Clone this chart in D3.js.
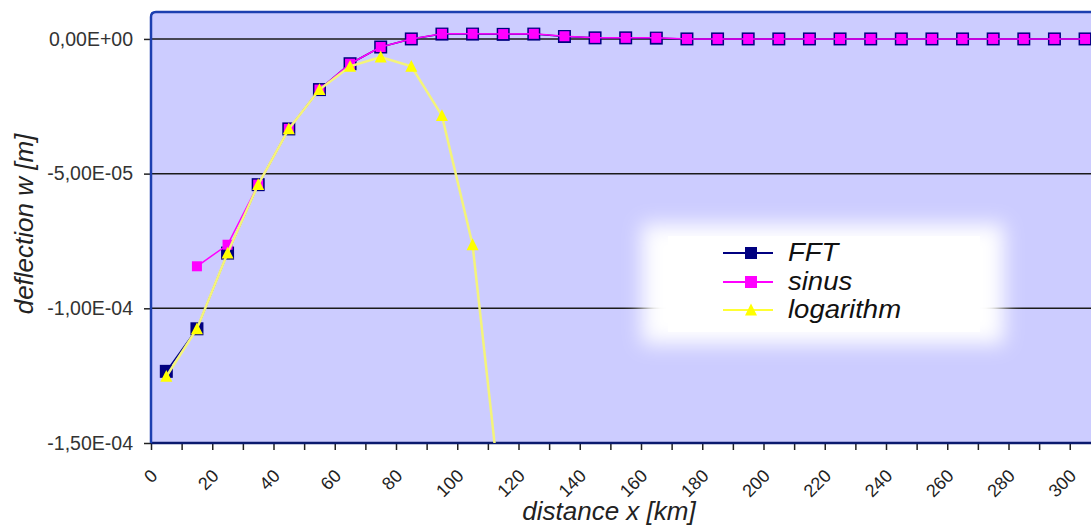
<!DOCTYPE html>
<html lang="en">
<head>
    <meta charset="UTF-8">
    <title>deflection</title>
    <style>
        body { margin: 0; background: #fff; }
        svg { display: block; font-family: "Liberation Sans", Arial, sans-serif; }
    </style>
</head>
<body>
<script src="https://cdnjs.cloudflare.com/ajax/libs/d3/7.8.5/d3.min.js"></script>
<script>
    const width = 1091;
    const height = 531;

    // distance x [km]
    const distance = [5, 15, 25, 35, 45, 55, 65, 75, 85, 95, 105, 115, 125, 135, 145, 155,
        165, 175, 185, 195, 205, 215, 225, 235, 245, 255, 265, 275, 285, 295, 305];

    // deflection w [m]
    const fft = [-1.234e-4, -1.076e-4, -7.95e-5, -5.41e-5, -3.34e-5, -1.88e-5, -9.2e-6, -3.0e-6,
        0, 1.8e-6, 1.8e-6, 1.7e-6, 1.8e-6, 0.9e-6, 0.4e-6, 0.4e-6,
        0.3e-6, 0, 0, 0, 0, 0, 0, 0, 0, 0, 0, 0, 0, 0, 0];
    const sinus = [null, -8.44e-5, -7.64e-5, -5.41e-5, -3.34e-5, -1.88e-5, -9.2e-6, -3.0e-6,
        0, 1.9e-6, 1.9e-6, 1.8e-6, 1.9e-6, 1.0e-6, 0.4e-6, 0.4e-6,
        0.4e-6, 0, 0, 0, 0, 0, 0, 0, 0, 0, 0, 0, 0, 0, 0];
    const logarithm = [-1.253e-4, -1.076e-4, -7.95e-5, -5.41e-5, -3.34e-5, -1.88e-5, -1.02e-5, -6.7e-6,
        -1.02e-5, -2.85e-5, -7.64e-5, -1.79e-4];

    const yTicks = [0, -5e-5, -1e-4, -1.5e-4];
    const yTickLabels = ["0,00E+00", "-5,00E-05", "-1,00E-04", "-1,50E-04"];
    const xTicks = d3.range(0, 320, 10);
    const seriesNames = ["FFT", "sinus", "logarithm"];

    const plot = {left: 151, top: 12, right: 1131, bottom: 443};

    const x = d3.scaleLinear().domain([0, 320]).range([plot.left, plot.right]);
    const y = d3.scaleLinear().domain([-1.5e-4, 1e-5]).range([plot.bottom, plot.top]);

    const svg = d3.select("body").append("svg")
        .attr("width", width)
        .attr("height", height);

    const defs = svg.append("defs");
    defs.append("clipPath").attr("id", "plotclip")
        .append("rect")
        .attr("x", plot.left).attr("y", plot.top)
        .attr("width", plot.right - plot.left).attr("height", plot.bottom - plot.top);
    defs.append("filter").attr("id", "soft")
        .attr("x", "-20%").attr("y", "-40%").attr("width", "140%").attr("height", "180%")
        .append("feGaussianBlur").attr("stdDeviation", 10);

    // plot background
    svg.append("rect")
        .attr("x", plot.left).attr("y", plot.top)
        .attr("width", plot.right - plot.left).attr("height", plot.bottom - plot.top)
        .attr("fill", "#ccccff");

    // gridlines
    svg.append("g")
        .selectAll("line")
        .data(yTicks.slice(0, 3))
        .join("line")
        .attr("x1", plot.left).attr("x2", plot.right)
        .attr("y1", d => y(d)).attr("y2", d => y(d))
        .attr("stroke", "#1a1a1a")
        .attr("stroke-width", 1.5);

    // y axis
    const yAxis = svg.append("g")
        .attr("transform", `translate(${plot.left},0)`)
        .call(d3.axisLeft(y).tickValues(yTicks).tickFormat((d, i) => yTickLabels[i]).tickSize(7).tickPadding(11));
    yAxis.select(".domain").remove();
    yAxis.selectAll(".tick line").attr("stroke", "#222").attr("stroke-width", 1.5);
    yAxis.selectAll(".tick text")
        .attr("font-size", 19.5)
        .attr("fill", "#333")
        .attr("font-family", "Liberation Sans, Arial, sans-serif");

    // x axis
    const xAxis = svg.append("g")
        .attr("transform", `translate(0,${plot.bottom})`)
        .call(d3.axisBottom(x).tickValues(xTicks).tickFormat(d => d % 20 === 0 ? d : "").tickSize(7));
    xAxis.select(".domain").remove();
    xAxis.selectAll(".tick line").attr("stroke", "#222").attr("stroke-width", 1.5);
    xAxis.selectAll(".tick text")
        .attr("font-size", 18)
        .attr("fill", "#222")
        .attr("font-family", "Liberation Sans, Arial, sans-serif")
        .attr("text-anchor", "end")
        .attr("dy", null)
        .attr("y", 0)
        .attr("transform", "translate(7,34) rotate(-45)");

    // frame
    svg.append("line")
        .attr("x1", plot.left).attr("x2", width)
        .attr("y1", plot.bottom).attr("y2", plot.bottom)
        .attr("stroke", "#0a1a6e").attr("stroke-width", 2.5);
    svg.append("path")
        .attr("d", `M${plot.left},${plot.bottom} L${plot.left},${plot.top + 5} Q${plot.left},${plot.top} ${plot.left + 5},${plot.top} L${width},${plot.top}`)
        .attr("fill", "none")
        .attr("stroke", "#1c3fb0").attr("stroke-width", 2.5);

    // series
    const area = svg.append("g").attr("clip-path", "url(#plotclip)");

    const line = d3.line()
        .defined(d => d[1] !== null)
        .x(d => x(d[0]))
        .y(d => y(d[1]));

    const seriesData = [fft, sinus, logarithm].map(vals =>
        vals.map((v, i) => [distance[i], v]));

    const styles = [
        {line: "#000080", width: 1.5, marker: "square", fill: "#000080", size: 13},
        {line: "#ff00ff", width: 1.5, marker: "square", fill: "#ff00ff", size: 10},
        {line: "#f4f47a", width: 2.5, marker: "triangle", fill: "#ffff00", size: 12}
    ];

    function drawMarker(g, kind, fill, size, cx, cy) {
        if (kind === "square") {
            g.append("rect")
                .attr("x", cx - size / 2).attr("y", cy - size / 2)
                .attr("width", size).attr("height", size)
                .attr("fill", fill);
        } else {
            const h = size * 0.9;
            g.append("path")
                .attr("d", `M${cx},${cy - h / 2 - 1} L${cx + size / 2},${cy + h / 2} L${cx - size / 2},${cy + h / 2}Z`)
                .attr("fill", fill);
        }
    }

    seriesData.forEach((data, k) => {
        const s = styles[k];
        area.append("path")
            .datum(data)
            .attr("d", line)
            .attr("fill", "none")
            .attr("stroke", s.line)
            .attr("stroke-width", s.width);
        const mg = area.append("g");
        data.filter(d => d[1] !== null).forEach(d => {
            drawMarker(mg, s.marker, s.fill, s.size, x(d[0]), y(d[1]));
        });
    });

    // legend
    const legend = svg.append("g");
    legend.append("rect")
        .attr("x", 642).attr("y", 224)
        .attr("width", 362).attr("height", 120)
        .attr("fill", "#fff")
        .attr("filter", "url(#soft)");
    legend.append("rect")
        .attr("x", 668).attr("y", 236)
        .attr("width", 312).attr("height", 96)
        .attr("fill", "#fff");

    const legendY = [253, 282, 310];
    seriesNames.forEach((name, k) => {
        const s = styles[k];
        const g = legend.append("g").attr("transform", `translate(0,${legendY[k]})`);
        g.append("line")
            .attr("x1", 723).attr("x2", 773)
            .attr("stroke", s.line === "#f4f47a" ? "#ffff33" : s.line)
            .attr("stroke-width", 2);
        drawMarker(g, s.marker, s.fill, 12, 751, 0);
        g.append("text")
            .attr("transform", "translate(788,8) scale(1.1,1)")
            .attr("font-size", 25)
            .attr("font-style", "italic")
            .attr("fill", "#111")
            .text(name);
    });

    // axis titles
    svg.append("text")
        .attr("x", 609).attr("y", 520)
        .attr("text-anchor", "middle")
        .attr("font-size", 26)
        .attr("font-style", "italic")
        .attr("fill", "#222")
        .text("distance x [km]");
    svg.append("text")
        .attr("transform", "translate(33,224) rotate(-90)")
        .attr("text-anchor", "middle")
        .attr("font-size", 26)
        .attr("font-style", "italic")
        .attr("fill", "#222")
        .text("deflection w [m]");
</script>
</body>
</html>
